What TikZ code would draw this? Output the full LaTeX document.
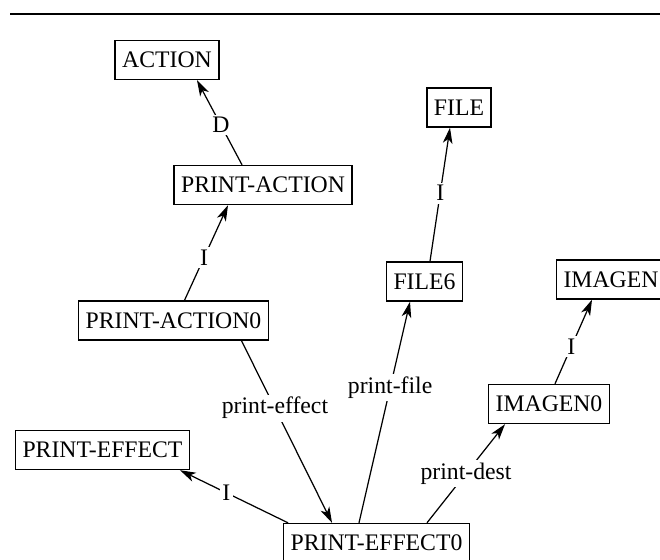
\documentclass[tikz,border=0pt]{standalone}
\usepackage{fontspec}
\setmainfont{Liberation Serif}
\usetikzlibrary{shapes,arrows.meta,positioning,calc}

\begin{document}
\begin{tikzpicture}[x=0.02cm, y=-0.02cm, >={Stealth[length=9pt, width=5.5pt, inset=2.5pt]},
    concept/.style={rectangle, draw, line width=0.8pt, inner xsep=4pt, minimum height=0.78cm, font=\fontsize{13.5}{16}\selectfont},
    rel/.style={fill=white, inner sep=1.5pt, font=\fontsize{13.5}{16}\selectfont},
    link/.style={->, line width=0.7pt}]

    \clip (0,0) rectangle (660,559);

    % rule at the top
    \draw[line width=1pt] (10,14) -- (660,14);

    \node [concept] (action) at (167,60) {ACTION};
    \node [concept] (paction) at (263,185) {PRINT-ACTION};
    \node [concept] (paction0) at (173.5,320.5) {PRINT-ACTION0};
    \node [concept] (peffect) at (102.5,450) {PRINT-EFFECT};
    \node [concept] (peffect0) at (376.5,543) {PRINT-EFFECT0};
    \node [concept] (file) at (459,107.5) {FILE};
    \node [concept] (file6) at (424.5,281.5) {FILE6};
    \node [concept] (imagen) at (611,279.5) {IMAGEN};
    \node [concept] (imagen0) at (549,404) {IMAGEN0};

    \draw[link] ([xshift=-0.42cm]paction.north) -- node[rel, pos=0.47] {D} ([xshift=0.6cm]action.south);
    \draw[link] ([xshift=0.22cm]paction0.north) -- node[rel, pos=0.45] {I} ([xshift=-0.7cm]paction.south);
    \draw[link] ([xshift=1.36cm]paction0.south) -- node[rel, pos=0.37] {print-effect} ([xshift=-0.89cm]peffect0.north);
    \draw[link] ([xshift=-1.77cm]peffect0.north) -- node[rel, pos=0.57] {I} ([xshift=1.55cm]peffect.south);
    \draw[link] ([xshift=-0.35cm]peffect0.north) -- node[rel, pos=0.61] {print-file} ([xshift=-0.29cm]file6.south);
    \draw[link] ([xshift=1.01cm]peffect0.north) -- node[rel, pos=0.5] {print-dest} ([xshift=-0.88cm]imagen0.south);
    \draw[link] ([xshift=0.11cm]file6.north) -- node[rel, pos=0.51] {I} ([xshift=-0.18cm]file.south);
    \draw[link] ([xshift=0.12cm]imagen0.north) -- node[rel, pos=0.44] {I} ([xshift=-0.38cm]imagen.south);
\end{tikzpicture}
\end{document}
